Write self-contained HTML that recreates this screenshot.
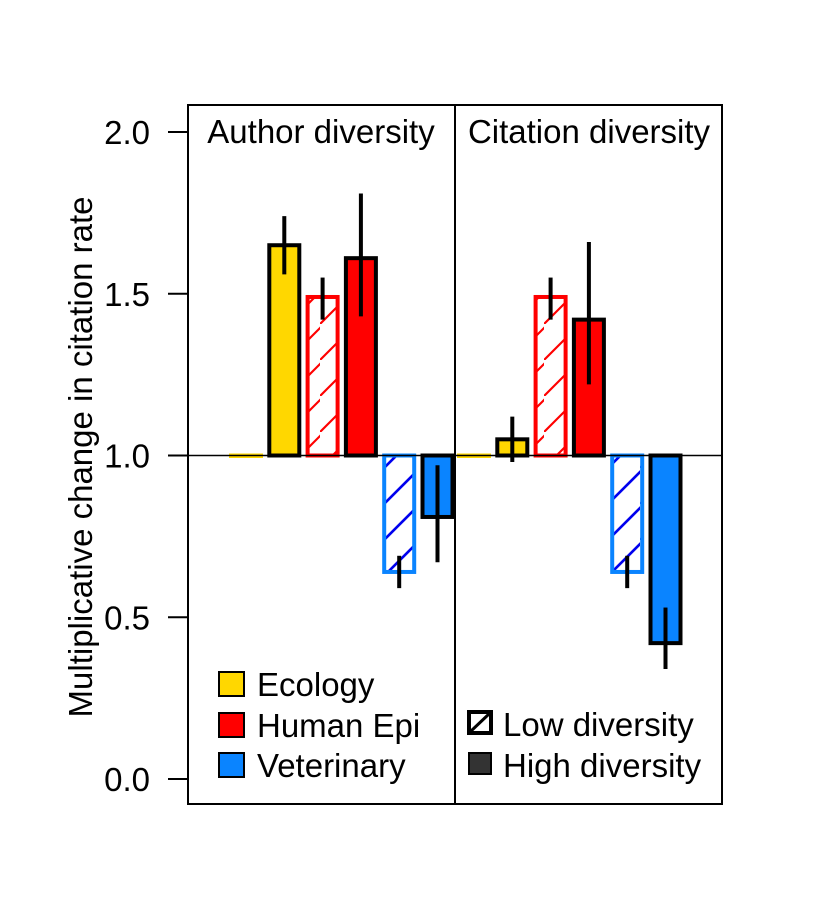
<!DOCTYPE html>
<html><head><meta charset="utf-8"><style>
body{margin:0;background:#fff}
svg text{font-family:"Liberation Sans",Arial,sans-serif;fill:#000}
</style></head><body>
<svg id="chart" width="831" height="900" xmlns="http://www.w3.org/2000/svg">
<defs>
<pattern id="hatch-red" patternUnits="userSpaceOnUse" width="32" height="36"><line x1="-2" y1="38" x2="34" y2="2" stroke="#ff0000" stroke-width="2.2"/></pattern>
<pattern id="hatch-blue" patternUnits="userSpaceOnUse" width="32" height="36"><line x1="-2" y1="38" x2="34" y2="2" stroke="#0000ee" stroke-width="2.6"/></pattern>
</defs>
<rect x="0" y="0" width="831" height="900" fill="#fff"/>
<g id="bars"></g>
<rect x="188" y="105" width="534" height="699" fill="none" stroke="#000" stroke-width="2"/>
<line x1="455" y1="105" x2="455" y2="804" stroke="#000" stroke-width="2"/>
<text x="321" y="143" font-size="33" text-anchor="middle">Author diversity</text>
<text x="589" y="143" font-size="33" text-anchor="middle">Citation diversity</text>
<g id="yaxis"></g>
<text transform="translate(92,457) rotate(-90)" font-size="33" text-anchor="middle">Multiplicative change in citation rate</text>
<g>
<rect x="219" y="672" width="25" height="24" fill="#ffd700" stroke="#000" stroke-width="2"/>
<text x="257" y="696" font-size="33">Ecology</text>
<rect x="219" y="713" width="25" height="24" fill="#ff0000" stroke="#000" stroke-width="2"/>
<text x="257" y="737" font-size="33">Human Epi</text>
<rect x="219" y="753" width="25" height="24" fill="#0a84ff" stroke="#000" stroke-width="2"/>
<text x="257" y="777" font-size="33">Veterinary</text>
</g>
<g>
<rect x="469" y="712" width="22" height="21" fill="#fff" stroke="#000" stroke-width="4"/>
<line x1="470" y1="732" x2="490" y2="713" stroke="#000" stroke-width="3"/>
<text x="503" y="736" font-size="33">Low diversity</text>
<rect x="469" y="753" width="22" height="21" fill="#333" stroke="#000" stroke-width="2"/>
<text x="503" y="777" font-size="33">High diversity</text>
</g>
</svg>
<script>
const categories=["Ecology Low","Ecology High","Human Epi Low","Human Epi High","Veterinary Low","Veterinary High"];
const authorValues=[1.0,1.65,1.49,1.61,0.64,0.81];
const authorLow=[1.0,1.56,1.42,1.43,0.59,0.67];
const authorHigh=[1.0,1.74,1.55,1.81,0.69,0.97];
const citationValues=[1.0,1.05,1.49,1.42,0.64,0.42];
const citationLow=[1.0,0.98,1.42,1.22,0.59,0.34];
const citationHigh=[1.0,1.12,1.55,1.66,0.69,0.53];
const yTicks=[0,0.5,1,1.5,2];
const yTickLabels=["0.0","0.5","1.0","1.5","2.0"];
const NS="http://www.w3.org/2000/svg";
function y(v){return 779-v*323.5;}
function mk(tag,attrs,parent){const e=document.createElementNS(NS,tag);for(const k in attrs)e.setAttribute(k,attrs[k]);parent.appendChild(e);return e;}
const bars=document.getElementById('bars');
const styles=[
 {fill:"#ffd700",stroke:"#ffd700",low:true},
 {fill:"#ffd700",stroke:"#000"},
 {fill:"url(#hatch-red)",stroke:"#ff0000",low:true},
 {fill:"#ff0000",stroke:"#000"},
 {fill:"url(#hatch-blue)",stroke:"#0a84ff",low:true},
 {fill:"#0a84ff",stroke:"#000"}];
function panel(x0,vals,lo,hi,name){
 vals.forEach((v,i)=>{
  const x=x0+i*38.3;
  const top=Math.min(y(v),y(1)),h=Math.abs(y(v)-y(1));
  const r=mk('rect',{x:x,y:top,width:30,height:Math.max(h,0.5),fill:styles[i].fill,stroke:styles[i].stroke,'stroke-width':4},bars);
  
  
  if(hi[i]!==lo[i]){
   const l=mk('line',{x1:x+15,x2:x+15,y1:y(lo[i]),y2:y(hi[i]),stroke:'#000','stroke-width':4},bars);
   
   
  }
 });
}
panel(231,authorValues,authorLow,authorHigh,'author');
panel(459,citationValues,citationLow,citationHigh,'citation');
const ref=mk('line',{x1:188,x2:722,y1:y(1),y2:y(1),stroke:'#000','stroke-width':1.5},bars);


const ya=document.getElementById('yaxis');
yTicks.forEach((t,i)=>{
 const tk=mk('line',{x1:168,x2:188,y1:y(t),y2:y(t),stroke:'#000','stroke-width':2},ya);
 
 
 const tx=mk('text',{x:150,y:y(t)+12,'font-size':33,'text-anchor':'end'},ya);
 tx.textContent=yTickLabels[i];
 
 
});
</script>
</body></html>
